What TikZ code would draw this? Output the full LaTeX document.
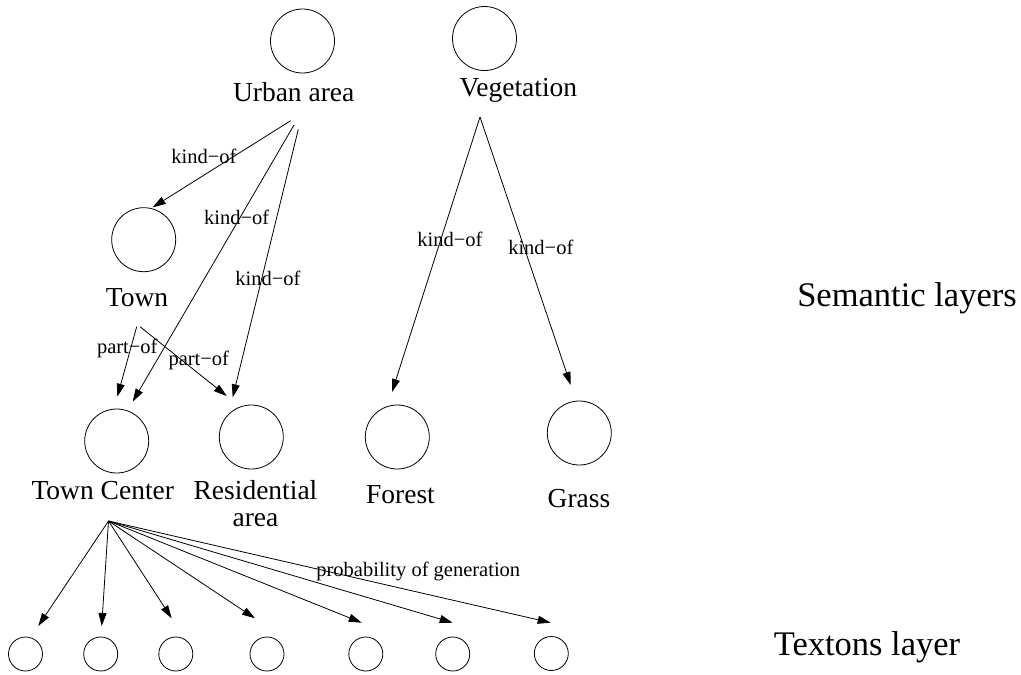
\documentclass[tikz,border=0pt]{standalone}
\usepackage{fontspec}
\setmainfont{Liberation Serif}
\usetikzlibrary{arrows.meta}
\begin{document}
\begin{tikzpicture}[x=1pt,y=-1pt,
  concept/.style={circle,draw,line width=0.8pt,minimum size=64pt,inner sep=0pt},
  texton/.style={circle,draw,line width=0.8pt,minimum size=34pt,inner sep=0pt},
  lbl/.style={anchor=base,inner sep=0pt,font=\fontsize{27.5}{27.5}\selectfont},
  layer/.style={anchor=base,inner sep=0pt,font=\fontsize{34.5}{34.5}\selectfont},
  elbl/.style={anchor=base,inner sep=0pt,font=\fontsize{20.5}{20.5}\selectfont},
  rel/.style={line width=0.8pt,-{Triangle[length=13pt,width=8pt]}}]
\useasboundingbox (0,0) rectangle (1021,675);
% concept circles
\node[concept] (urban) at (302.5,41) {};
\node[concept] (veg) at (484.5,38.5) {};
\node[concept] (town) at (143.7,239.7) {};
\node[concept] (tc) at (116.7,441) {};
\node[concept] (res) at (251.3,437) {};
\node[concept] (forest) at (397.3,437) {};
\node[concept] (grass) at (579.3,433) {};
% textons
\node[texton] (t1) at (25.5,654) {};
\node[texton] (t2) at (100.7,654) {};
\node[texton] (t3) at (175.8,654) {};
\node[texton] (t4) at (267,654) {};
\node[texton] (t5) at (365.8,654) {};
\node[texton] (t6) at (452.7,654) {};
\node[texton] (t7) at (551.3,653.5) {};
% labels
\node[lbl] (urbanL) at (293.7,101.7) {Urban area};
\node[lbl] (vegL) at (518.3,96.5) {Vegetation};
\node[lbl] (townL) at (137,306.7) {Town};
\node[lbl] (tcL) at (102.8,499.3) {Town Center};
\node[lbl] (resL) at (255.5,499.3) {\setlength{\tabcolsep}{0pt}\begin{tabular}[t]{c}Residential\\area\end{tabular}};
\node[lbl] (forestL) at (400.5,503.3) {Forest};
\node[lbl] (grassL) at (579,507.7) {Grass};
\node[layer] (semL) at (907,306.7) {Semantic layers};
\node[layer] (texL) at (867,655) {Textons layer};
% connector end points
\coordinate (uo1) at (290.7,120.7);
\coordinate (uo2) at (294,125);
\coordinate (uo3) at (298.3,129.3);
\coordinate (townin) at (152.7,207.3);
\coordinate (tcin1) at (132.7,401.7);
\coordinate (resin1) at (232.7,397.3);
\coordinate (to1) at (136.7,326.7);
\coordinate (to2) at (140,326.7);
\coordinate (tcin2) at (117.3,396.7);
\coordinate (resin2) at (226.7,396);
\coordinate (vo) at (480,117);
\coordinate (forestin) at (392,392);
\coordinate (grassin) at (570.7,385);
\coordinate (fan) at (108.5,521);
\coordinate (t1in) at (38.3,626);
\coordinate (t2in) at (101.7,626);
\coordinate (t3in) at (171.7,618.3);
\coordinate (t4in) at (255,618.3);
\coordinate (t5in) at (361.7,622.7);
\coordinate (t6in) at (452.7,622.7);
\coordinate (t7in) at (550.7,622.7);
% connectors
\draw[rel] (uo1) -- (townin);
\draw[rel] (uo2) -- (tcin1);
\draw[rel] (uo3) -- (resin1);
\draw[rel] (to1) -- (tcin2);
\draw[rel] (to2) -- (resin2);
\draw[rel] (vo) -- (forestin);
\draw[rel] (vo) -- (grassin);
\foreach \t in {t1in,t2in,t3in,t4in,t5in,t6in,t7in}
  \draw[rel] (fan) -- (\t);
% edge labels
\node[elbl] (k1) at (204,163.3) {kind−of};
\node[elbl] (k2) at (236.7,224) {kind−of};
\node[elbl] (k3) at (268,285.7) {kind−of};
\node[elbl] (p1) at (127.3,353.3) {part−of};
\node[elbl] (p2) at (198.8,365) {part−of};
\node[elbl] (k4) at (450,246.7) {kind−of};
\node[elbl] (k5) at (540.8,254) {kind−of};
\node[elbl] (prob) at (418.3,576) {probability of generation};
\end{tikzpicture}
\end{document}
